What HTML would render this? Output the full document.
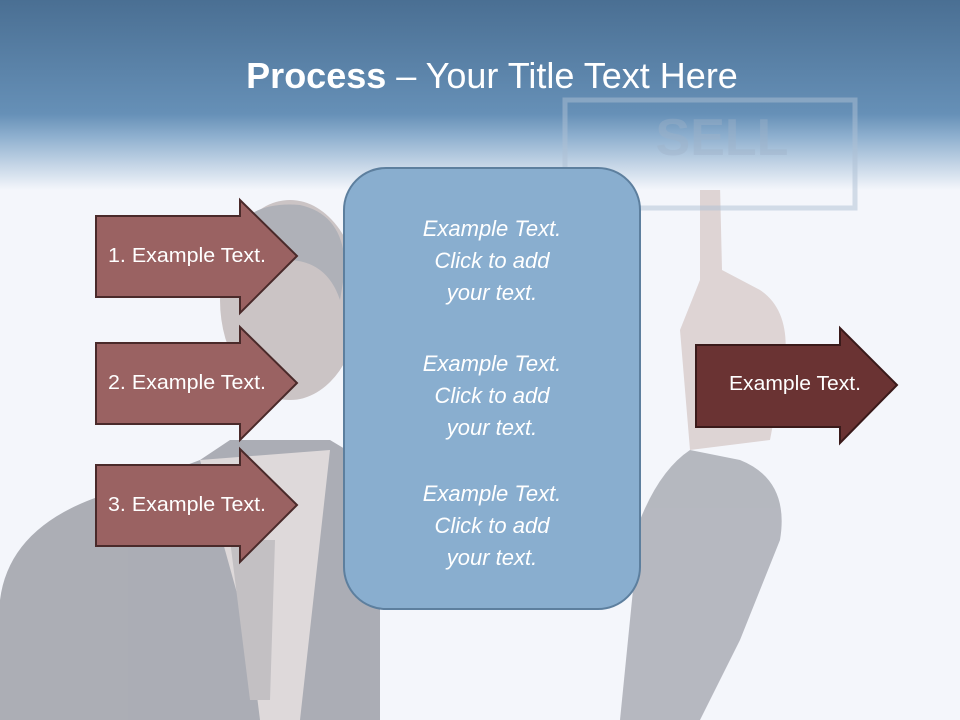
<!DOCTYPE html>
<html><head><meta charset="utf-8"><style>
html,body{margin:0;padding:0}
body{width:960px;height:720px;overflow:hidden;position:relative;background:#f4f6fb;font-family:"Liberation Sans",sans-serif}
</style></head><body>
<svg width="960" height="720" style="position:absolute;left:0;top:0">
<defs>
<linearGradient id="hd" x1="0" y1="0" x2="0" y2="1">
<stop offset="0" stop-color="#4a6f93"/>
<stop offset="0.6" stop-color="#6690b7"/>
<stop offset="0.72" stop-color="#8fb0cf"/>
<stop offset="1" stop-color="#f4f6fb"/>
</linearGradient>
</defs>
<!-- person silhouette -->
<g opacity="0.8">
<path d="M0 720 L0 600 Q10 520 120 490 L200 460 L230 440 L330 440 L380 470 L380 720 Z" fill="#9a9ca4"/>
<path d="M620 720 L640 520 Q660 470 690 450 L740 460 Q790 480 780 540 L740 640 L700 720 Z" fill="#a6a9b1"/>
<ellipse cx="290" cy="300" rx="70" ry="100" fill="#c2b8b8"/>
<path d="M225 250 Q240 200 300 205 Q345 215 345 270 L340 300 Q320 240 240 270 Z" fill="#9ea0a8"/>
<path d="M200 460 L250 640 L260 720 L300 720 L330 450 Z" fill="#d9d3d3"/>
<path d="M230 540 L250 700 L270 700 L275 540 Z" fill="#b7b3b6"/>
<path d="M700 180 Q712 175 720 185 L722 270 L760 290 Q790 310 785 360 L770 440 L690 450 L680 330 L700 280 Z" fill="#d8cccb"/>
</g>
<rect x="0" y="0" width="960" height="190" fill="url(#hd)"/>
<!-- SELL sign -->
<rect x="565" y="100" width="290" height="108" fill="none" stroke="#aebfd3" stroke-width="5" opacity="0.5"/>
<text x="722" y="155" font-size="52" font-weight="bold" fill="#9fb2c8" text-anchor="middle" opacity="0.4">SELL</text>
<!-- left arrows -->
<g stroke="#4a2a2a" stroke-width="2" fill="#9a6262">
<path d="M96 216 H240 V200 L297 256 L240 313 V297 H96 Z"/>
<path d="M96 343 H240 V327 L297 383 L240 440 V424 H96 Z"/>
<path d="M96 465 H240 V449 L297 505 L240 562 V546 H96 Z"/>
</g>
<g font-size="20" fill="#fff" text-anchor="middle">
<text x="187" y="262" textLength="158" lengthAdjust="spacingAndGlyphs">1. Example Text.</text>
<text x="187" y="389" textLength="158" lengthAdjust="spacingAndGlyphs">2. Example Text.</text>
<text x="187" y="511" textLength="158" lengthAdjust="spacingAndGlyphs">3. Example Text.</text>
</g>
<!-- center box -->
<rect x="344" y="168" width="296" height="441" rx="42" fill="#89aecf" stroke="#5d7f9e" stroke-width="2"/>
<g font-size="22" font-style="italic" fill="#fff" text-anchor="middle">
<text x="492" y="236">Example Text.</text><text x="492" y="268">Click  to add</text><text x="492" y="300">your text.</text>
<text x="492" y="371">Example Text.</text><text x="492" y="403">Click  to add</text><text x="492" y="435">your text.</text>
<text x="492" y="501">Example Text.</text><text x="492" y="533">Click  to add</text><text x="492" y="565">your text.</text>
</g>
<!-- right arrow -->
<path d="M696 345 H840 V328 L897 385 L840 443 V427 H696 Z" fill="#6a3333" stroke="#3a1a1a" stroke-width="2"/>
<text x="795" y="390" font-size="20" fill="#fff" text-anchor="middle" textLength="132" lengthAdjust="spacingAndGlyphs">Example Text.</text>
<!-- title -->
<text x="492" y="88" font-size="36" fill="#fff" text-anchor="middle"><tspan font-weight="bold">Process</tspan> – Your Title Text Here</text>
</svg>
</body></html>
